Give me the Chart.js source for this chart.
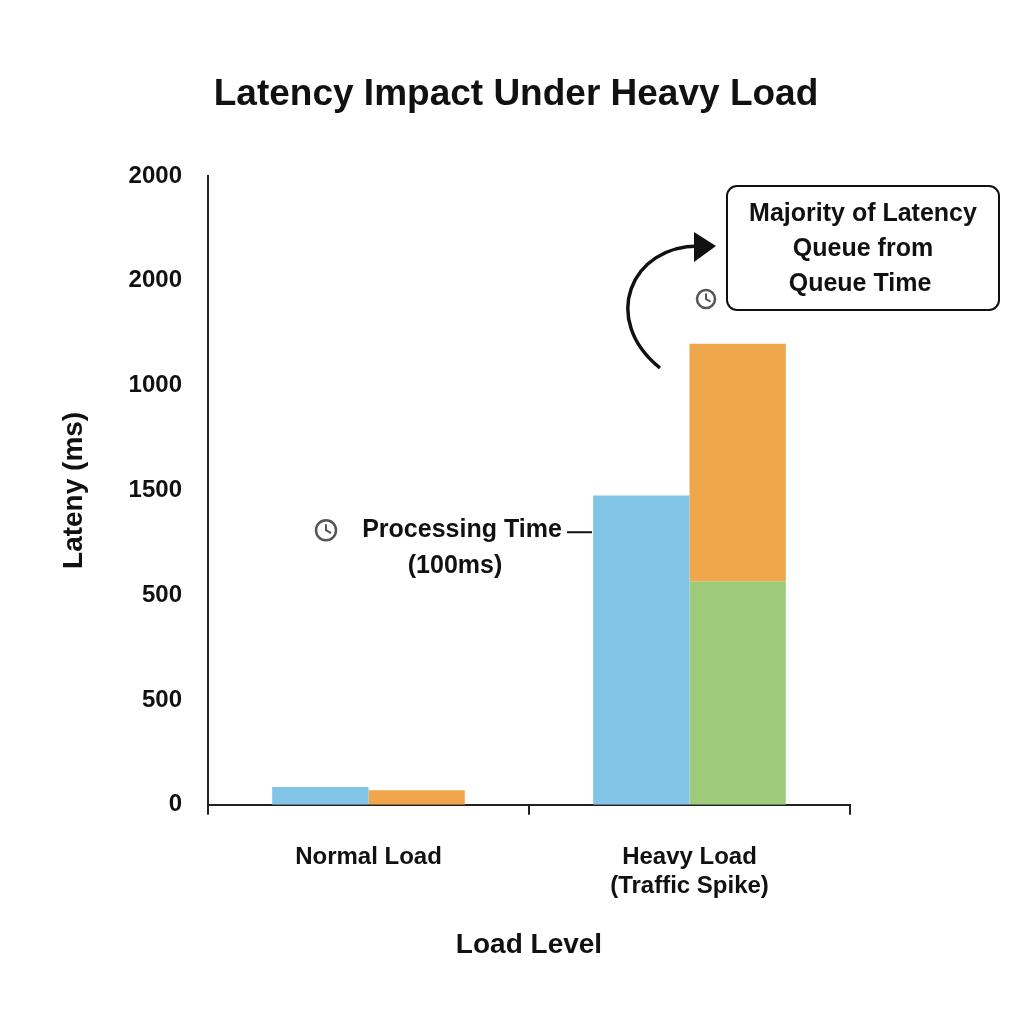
<!DOCTYPE html>
<html>
<head>
<meta charset="utf-8">
<script src="https://cdn.jsdelivr.net/npm/chart.js@4"></script>
<style>
  html, body { margin: 0; padding: 0; background: #fff; }
  #wrap { width: 1024px; height: 1024px; }
</style>
</head>
<body>
<div id="wrap"><canvas id="js--chart"></canvas></div>
<script>
const categories = ["Normal Load", ["Heavy Load", "(Traffic Spike)"]]
const processingValues = [85, 1476]
const queueBaseValues = [0, 1067]
const queueTopValues = [70, 1133]
const tickValues = [0, 500, 1000, 1500, 2000, 2500, 3000]
const tickLabels = ["0", "500", "500", "1500", "1000", "2000", "2000"]
const chartTitle = "Latency Impact Under Heavy Load"

const FONT = "'Liberation Sans', Arial, sans-serif"

// title + callouts drawn on top of the bars
const annotations = {
    id: "annotations",
    afterDraw(chart) {
        const c = chart.ctx
        const y = chart.scales.y
        c.save()
        c.fillStyle = "#111"
        c.strokeStyle = "#111"
        c.textAlign = "center"
        c.textBaseline = "middle"

        c.font = "bold 37px " + FONT
        c.fillText(chartTitle, 516, 95)

        c.font = "bold 25px " + FONT
        // processing label
        const py = y.getPixelForValue(1310)
        c.fillText("Processing Time", 462, py)
        c.fillText("(100ms)", 455, py + 36)
        clock(c, 326, py, 10)
        c.lineWidth = 2
        c.beginPath(); c.moveTo(567, py + 2); c.lineTo(592, py + 2); c.stroke()

        // queue callout box
        c.lineWidth = 2
        roundRect(c, 727, 186, 272, 124, 10)
        c.stroke()
        c.fillText("Majority of Latency", 863, 214)
        c.fillText("Queue from", 863, 249)
        c.fillText("Queue Time", 860, 284)
        clock(c, 706, 299, 9)

        // curved arrow
        c.lineWidth = 3.5
        c.beginPath()
        c.moveTo(660, 368)
        c.bezierCurveTo(600, 320, 630, 245, 700, 246)
        c.stroke()
        c.beginPath()
        c.moveTo(694, 232); c.lineTo(716, 246); c.lineTo(694, 262)
        c.closePath()
        c.fill()
        c.restore()
    }
}

function clock(c, cx, cy, r) {
    c.save()
    c.strokeStyle = "#555"
    c.lineWidth = 2.5
    c.beginPath(); c.arc(cx, cy, r, 0, Math.PI * 2); c.stroke()
    c.lineWidth = 2
    c.beginPath(); c.moveTo(cx, cy - r * 0.6); c.lineTo(cx, cy); c.lineTo(cx + r * 0.5, cy + r * 0.3); c.stroke()
    c.restore()
}

function roundRect(c, x, y, w, h, r) {
    c.beginPath()
    c.moveTo(x + r, y)
    c.arcTo(x + w, y, x + w, y + h, r)
    c.arcTo(x + w, y + h, x, y + h, r)
    c.arcTo(x, y + h, x, y, r)
    c.arcTo(x, y, x + w, y, r)
    c.closePath()
}

const data = {
    labels: categories,
    datasets: [
        { label: "Processing Time", data: processingValues, backgroundColor: "#82c4e6", stack: "a" },
        { label: "Queue Base", data: queueBaseValues, backgroundColor: "#9ecb7a", stack: "b" },
        { label: "Queue Time", data: queueTopValues, backgroundColor: "#f0a64a", stack: "b" },
    ]
}

const config = {
    type: "bar",
    data: data,
    options: {
        responsive: true,
        maintainAspectRatio: false,
        animation: false,
        layout: { padding: { left: 53, right: 174, top: 176, bottom: 58 } },
        datasets: { bar: { barPercentage: 1, categoryPercentage: 0.6 } },
        plugins: {
            legend: { display: false },
            tooltip: { enabled: false },
            title: { display: false }
        },
        scales: {
            x: {
                stacked: true,
                grid: { display: true, drawOnChartArea: false, drawTicks: true, tickLength: 10, color: "#222", lineWidth: 2, offset: true },
                border: { color: "#222", width: 2 },
                ticks: { color: "#111", font: { family: FONT, size: 24, weight: "bold" }, padding: 28 },
                title: { display: true, text: "Load Level", color: "#111", font: { family: FONT, size: 28, weight: "bold" }, padding: { top: 0 } }
            },
            y: {
                stacked: true,
                min: 0,
                max: 3000,
                afterBuildTicks: (axis) => { axis.ticks = tickValues.map(v => ({ value: v })) },
                grid: { display: false, drawTicks: true, tickLength: 8 },
                border: { color: "#222", width: 2 },
                ticks: {
                    color: "#111",
                    font: { family: FONT, size: 24, weight: "bold" },
                    padding: 18,
                    callback: (v) => tickLabels[tickValues.indexOf(v)]
                },
                title: { display: true, text: "Lateny (ms)", color: "#111", font: { family: FONT, size: 28, weight: "bold" }, padding: { bottom: 20 } }
            }
        }
    },
    plugins: [annotations]
}

new Chart(document.getElementById("js--chart"), config)
</script>
</body>
</html>
